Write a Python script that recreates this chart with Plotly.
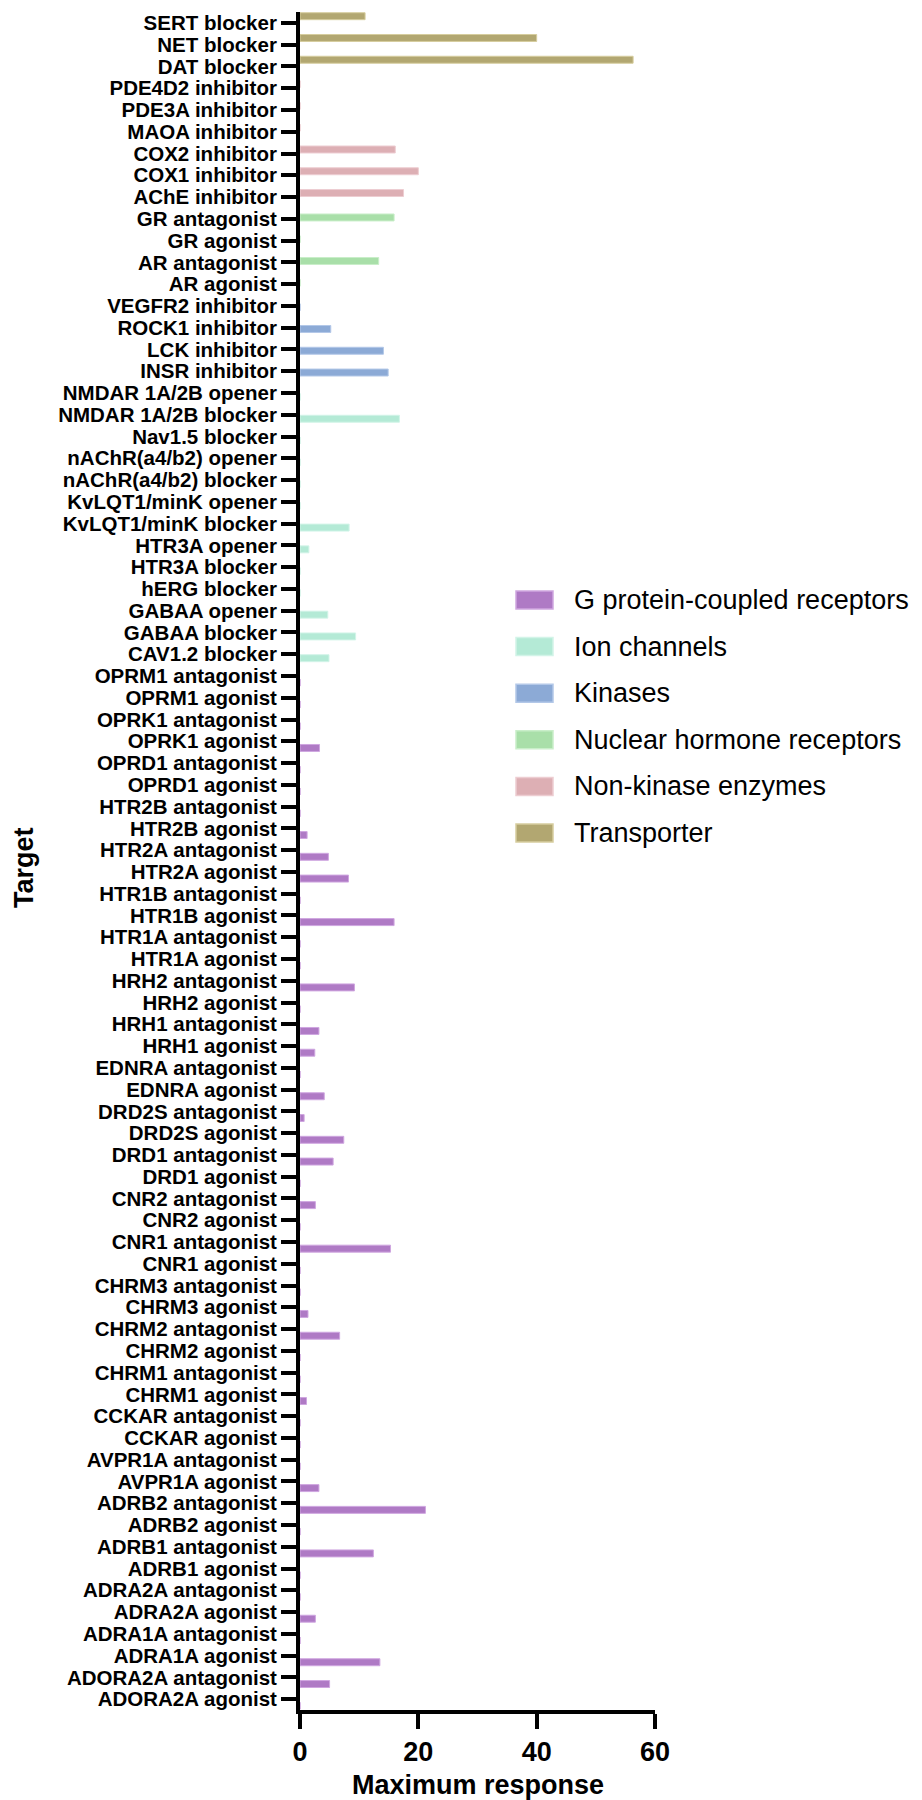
import plotly.graph_objects as go

# ---------------- data ----------------
categories = [
    "SERT blocker", "NET blocker", "DAT blocker",
    "PDE4D2 inhibitor", "PDE3A inhibitor", "MAOA inhibitor", "COX2 inhibitor", "COX1 inhibitor", "AChE inhibitor",
    "GR antagonist", "GR agonist", "AR antagonist", "AR agonist",
    "VEGFR2 inhibitor", "ROCK1 inhibitor", "LCK inhibitor", "INSR inhibitor",
    "NMDAR 1A/2B opener", "NMDAR 1A/2B blocker", "Nav1.5 blocker", "nAChR(a4/b2) opener", "nAChR(a4/b2) blocker",
    "KvLQT1/minK opener", "KvLQT1/minK blocker", "HTR3A opener", "HTR3A blocker", "hERG blocker",
    "GABAA opener", "GABAA blocker", "CAV1.2 blocker",
    "OPRM1 antagonist", "OPRM1 agonist", "OPRK1 antagonist", "OPRK1 agonist", "OPRD1 antagonist", "OPRD1 agonist",
    "HTR2B antagonist", "HTR2B agonist", "HTR2A antagonist", "HTR2A agonist", "HTR1B antagonist", "HTR1B agonist",
    "HTR1A antagonist", "HTR1A agonist", "HRH2 antagonist", "HRH2 agonist", "HRH1 antagonist", "HRH1 agonist",
    "EDNRA antagonist", "EDNRA agonist", "DRD2S antagonist", "DRD2S agonist", "DRD1 antagonist", "DRD1 agonist",
    "CNR2 antagonist", "CNR2 agonist", "CNR1 antagonist", "CNR1 agonist", "CHRM3 antagonist", "CHRM3 agonist",
    "CHRM2 antagonist", "CHRM2 agonist", "CHRM1 antagonist", "CHRM1 agonist", "CCKAR antagonist", "CCKAR agonist",
    "AVPR1A antagonist", "AVPR1A agonist", "ADRB2 antagonist", "ADRB2 agonist", "ADRB1 antagonist", "ADRB1 agonist",
    "ADRA2A antagonist", "ADRA2A agonist", "ADRA1A antagonist", "ADRA1A agonist", "ADORA2A antagonist", "ADORA2A agonist",
]

gpcr_targets = categories[30:]
gpcr_values = [
    0, 0, 0, 3.3, 0, 0,
    0, 1.2, 4.8, 8.2, 0, 15.9,
    0, 0, 9.2, 0, 3.2, 2.5,
    0, 4.1, 0.7, 7.4, 5.6, 0,
    2.6, 0, 15.3, 0, 0, 1.35,
    6.7, 0, 0, 1.1, 0, 0,
    0, 3.2, 21.2, 0, 12.4, 0,
    0, 2.6, 0, 13.5, 5.0, 0,
]
ion_targets = categories[17:30]
ion_values = [0, 16.8, 0, 0, 0, 0, 8.3, 1.5, 0, 0, 4.7, 9.4, 4.9]
kinase_targets = categories[13:17]
kinase_values = [0, 5.2, 14.1, 14.9]
nhr_targets = categories[9:13]
nhr_values = [15.9, 0, 13.3, 0]
enzyme_targets = categories[3:9]
enzyme_values = [0, 0, 0, 16.1, 20.0, 17.5]
transporter_targets = categories[0:3]
transporter_values = [11.0, 40.0, 56.3]

series_names = ["G protein-coupled receptors", "Ion channels", "Kinases",
                "Nuclear hormone receptors", "Non-kinase enzymes", "Transporter"]
x_ticks = [0, 20, 40, 60]

# ---------------- style ----------------
fills = ["#AF7AC5", "#B4EAD6", "#8CAAD6", "#A9DFA9", "#DDAFB4", "#B2A771"]
edges = ["#CFA6E0", "#D2F4E8", "#B3C8E8", "#C9EEC9", "#EDCDD1", "#D6CD9E"]
FONT = "Liberation Sans, Arial, sans-serif"

W, H = 922, 1800
L, R, T, B = 292, 647, 4, 1702


def px_x(p):
    return (p - L) / (R - L)


def px_y(p):
    return (B - p) / (B - T)


series = [
    (gpcr_targets, gpcr_values),
    (ion_targets, ion_values),
    (kinase_targets, kinase_values),
    (nhr_targets, nhr_values),
    (enzyme_targets, enzyme_values),
    (transporter_targets, transporter_values),
]

bar_w = 0.32
step = 0.1228

fig = go.Figure()
for k, ((tg, vals), name) in enumerate(zip(series, series_names)):
    center = (2.5 - k) * step
    fig.add_trace(go.Bar(
        y=tg, x=vals, name=name, orientation="h",
        width=bar_w, offset=center - bar_w / 2,
        marker=dict(color=fills[k], line=dict(color=edges[k], width=1)),
        showlegend=False,
    ))

# manual legend (swatches + labels)
shapes = []
annotations = []
for k, name in enumerate(series_names):
    cy = 592 + k * 46.6
    shapes.append(dict(type="rect", xref="paper", yref="paper",
                       x0=px_x(508), x1=px_x(545), y0=px_y(cy + 9), y1=px_y(cy - 9),
                       fillcolor=fills[k], line=dict(color=edges[k], width=1.5), layer="above"))
    annotations.append(dict(xref="paper", yref="paper", x=px_x(564), y=px_y(cy),
                            xanchor="left", yanchor="middle", showarrow=False, text=name,
                            font=dict(family=FONT, size=27, color="black")))

annotations.append(dict(xref="paper", yref="paper", x=px_x(16), y=px_y(860),
                        xanchor="center", yanchor="middle", showarrow=False, text="Target",
                        textangle=-90,
                        font=dict(family=FONT, size=27, color="black", weight="bold")))
annotations.append(dict(xref="paper", yref="paper", x=0.5, y=px_y(1777),
                        xanchor="center", yanchor="middle", showarrow=False, text="Maximum response",
                        font=dict(family=FONT, size=27, color="black", weight="bold")))

fig.update_layout(
    width=W, height=H,
    margin=dict(l=L, r=W - R, t=T, b=H - B, pad=0),
    paper_bgcolor="white", plot_bgcolor="white",
    barmode="overlay",
    shapes=shapes, annotations=annotations,
    font=dict(family=FONT, color="black"),
)
fig.update_xaxes(
    range=[0, 60], tickmode="array", tickvals=x_ticks, ticktext=[str(v) for v in x_ticks],
    showline=True, linecolor="black", linewidth=4,
    ticks="outside", ticklen=15, tickwidth=4, tickcolor="black",
    showgrid=False, zeroline=False,
    tickfont=dict(family=FONT, size=27, color="black", weight="bold"),
)
fig.update_yaxes(
    type="category", categoryorder="array", categoryarray=categories,
    tickmode="array", tickvals=categories, ticktext=categories,
    range=[len(categories) - 0.5, -0.5],
    showline=True, linecolor="black", linewidth=4,
    ticks="outside", ticklen=15, tickwidth=3.5, tickcolor="black",
    showgrid=False, zeroline=False,
    tickfont=dict(family=FONT, size=20.5, color="black", weight="bold"),
)

fig.write_html("out.html")
